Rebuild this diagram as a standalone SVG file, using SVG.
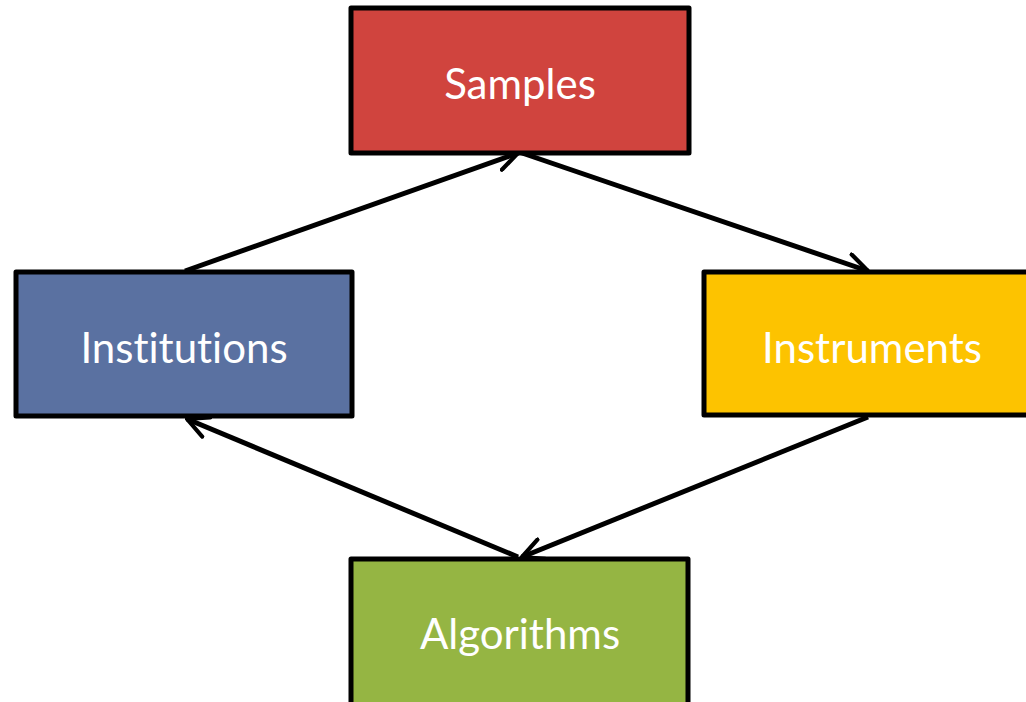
<svg xmlns="http://www.w3.org/2000/svg" width="1026" height="702" viewBox="0 0 1026 702">
<style>
.box{stroke:#000;stroke-width:5;stroke-linejoin:round;}
.lbl{font-family:Lato,"Open Sans","Liberation Sans",sans-serif;font-size:42px;fill:#fff;text-anchor:middle;font-variant-ligatures:none;}
.conn{stroke:#000;stroke-width:5;fill:none;marker-end:url(#arr);}
</style>
<defs>
<marker id="arr" viewBox="0 0 12 12" refX="11" refY="6" markerWidth="5" markerHeight="5" orient="auto" markerUnits="strokeWidth">
<path d="M1,1 L11,6 L1,11" fill="none" stroke="#000" stroke-width="2" stroke-linecap="round" stroke-linejoin="round"/>
</marker>
</defs>
<rect width="1026" height="702" fill="#fff"/>
<g id="connectors">
<line class="conn" x1="185" y1="271" x2="518" y2="153"/>
<line class="conn" x1="522" y1="153" x2="868" y2="271"/>
<line class="conn" x1="868" y1="417" x2="522" y2="557"/>
<line class="conn" x1="518" y1="557" x2="187" y2="419"/>
</g>
<g id="samples">
<rect class="box" x="351" y="8" width="338" height="145" fill="#D0443E"/>
<text class="lbl" x="520" y="99">Samples</text>
</g>
<g id="institutions">
<rect class="box" x="16" y="272" width="336" height="144" fill="#5A71A1"/>
<text class="lbl" x="184" y="363">Institutions</text>
</g>
<g id="instruments">
<rect class="box" x="704" y="272" width="340" height="143" fill="#FDC300"/>
<text class="lbl" x="872" y="363">Instruments</text>
</g>
<g id="algorithms">
<rect class="box" x="351" y="559" width="337" height="160" fill="#95B543"/>
<text class="lbl" x="520" y="649">Algorithms</text>
</g>
</svg>
